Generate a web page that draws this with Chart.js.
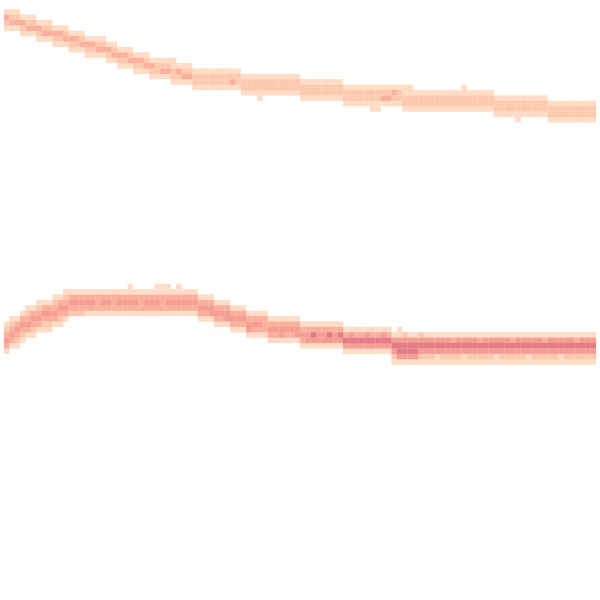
<!DOCTYPE html>
<html>
<head>
<meta charset="utf-8">
<style>
  html, body { margin: 0; padding: 0; background: #fff; }
  canvas { display: block; }
</style>
<script src="https://cdn.jsdelivr.net/npm/chart.js@4/dist/chart.umd.min.js"></script>
</head>
<body>
<canvas id="densityChart" width="600" height="600"></canvas>
<script>
// grid is 110 x 110 cells, rows counted from the top
var gridSize = 110;

// colour for density level 1..5
var levelColors = ['#fedcc5', '#fdc9ae', '#fab09c', '#f59d92', '#e27c86'];

// upper curve: first row of the band in each column, then the levels going down (0 = empty)
var topStart = [
  1, 1, 1, 2, 2, 2, 3, 3, 3, 4,
  4, 4, 5, 5, 5, 6, 6, 6, 6, 7,
  7, 8, 8, 8, 9, 9, 9, 10, 10, 10,
  10, 10, 11, 11, 11, 12, 12, 12, 12, 12,
  12, 12, 12, 12, 13, 13, 13, 13, 13, 13,
  13, 13, 13, 13, 13, 14, 14, 14, 14, 14,
  14, 14, 14, 15, 15, 15, 15, 15, 15, 15,
  15, 15, 15, 15, 15, 15, 16, 16, 16, 16,
  16, 16, 16, 16, 16, 15, 16, 16, 16, 16,
  16, 17, 17, 17, 17, 17, 17, 17, 17, 17,
  17, 18, 18, 18, 18, 18, 18, 18, 18, 18
];
var topCells = [
  '1321', '1231', '1231', '1321', '1231', '1231', '1321', '1231', '1231', '1321',
  '1321', '1231', '1321', '1321', '1231', '1321', '1321', '1231', '1231', '1321',
  '1231', '1321', '1321', '1231', '1321', '1321', '1231', '1321', '1221', '1231',
  '1231', '11221', '1321', '1231', '1231', '1221', '1221', '1221', '1221', '1221',
  '1221', '1221', '1231', '1221', '1221', '1221', '1221', '12211', '1221', '1221',
  '1221', '1221', '1221', '1221', '1221', '1221', '1221', '1221', '1221', '1221',
  '1221', '1221', '1221', '1221', '1221', '1221', '1221', '1221', '12211', '12211',
  '1231', '1231', '1321', '1221', '11221', '11221', '1221', '1221', '1221', '1221',
  '1221', '1221', '1221', '1221', '1221', '11221', '1221', '1221', '1221', '1221',
  '1221', '1221', '1221', '1221', '1221', '12211', '1221', '1221', '1221', '1221',
  '1221', '1221', '1221', '1221', '1221', '1221', '1221', '1221', '1221', '1221'
];

// lower curve
var lowStart = [
  59, 58, 58, 57, 56, 56, 55, 55, 55, 54,
  54, 53, 53, 53, 53, 53, 53, 53, 53, 53,
  53, 53, 53, 52, 53, 53, 53, 53, 52, 52,
  52, 53, 52, 53, 53, 53, 54, 54, 54, 55,
  55, 55, 56, 56, 56, 57, 57, 57, 57, 58,
  58, 58, 58, 58, 58, 59, 59, 59, 59, 59,
  59, 59, 59, 60, 60, 60, 60, 60, 60, 60,
  60, 60, 61, 60, 61, 61, 61, 61, 61, 61,
  61, 61, 61, 61, 61, 61, 61, 61, 61, 61,
  61, 61, 61, 61, 61, 61, 61, 61, 61, 61,
  61, 61, 61, 61, 61, 61, 61, 61, 61, 61
];
var lowCells = [
  '123431', '123431', '134321', '134321', '123431', '134321', '123431', '134321', '134321', '123431',
  '134321', '123431', '13432', '13432', '13432', '13431', '13431', '13331', '13431', '13431',
  '13331', '13431', '13431', '113431', '13431', '13331', '13431', '13431', '113431', '113331',
  '113431', '13431', '113431', '13431', '13431', '13431', '13431', '13431', '13441', '13431',
  '13431', '13441', '13431', '13431', '13431', '13441', '13431', '13431', '13331', '13431',
  '13431', '13441', '13431', '13431', '13441', '13431', '13441', '13541', '13441', '13441',
  '13541', '13441', '13541', '13541', '14541', '13541', '13541', '14541', '13541', '13541',
  '14541', '13541', '145421', '1145541', '245541', '145541', '145541', '245421', '145421', '145421',
  '145411', '145421', '145421', '135421', '145421', '145411', '145421', '145421', '135421', '145421',
  '145421', '145411', '145421', '145421', '135421', '145421', '145421', '145411', '145421', '145421',
  '135421', '145421', '145421', '145411', '145421', '145421', '135421', '145421', '145421', '145421'
];

function toPoints(starts, cells) {
  var pts = [];
  for (var i = 0; i < starts.length; i++) {
    for (var k = 0; k < cells[i].length; k++) {
      var v = +cells[i][k];
      if (v > 0) pts.push({ x: i + 0.5, y: starts[i] + k + 0.5, v: v });
    }
  }
  // darker cells on top
  pts.sort(function (a, b) { return a.v - b.v; });
  return pts;
}

var cellStyle = {
  pointStyle: 'rect',
  pointRadius: 3.95,
  pointHoverRadius: 3.95,
  borderWidth: 0,
  pointBorderWidth: 0,
  backgroundColor: function (c) { return c.raw ? levelColors[c.raw.v - 1] : '#fff'; },
  clip: false
};

var ctx = document.getElementById('densityChart').getContext('2d');
var densityChart = new Chart(ctx, {
  type: 'scatter',
  data: {
    datasets: [
      Object.assign({ data: toPoints(topStart, topCells) }, cellStyle),
      Object.assign({ data: toPoints(lowStart, lowCells) }, cellStyle)
    ]
  },
  options: {
    responsive: false,
    animation: false,
    events: [],
    layout: { padding: 0 },
    plugins: {
      legend: { display: false },
      tooltip: { enabled: false }
    },
    scales: {
      x: { type: 'linear', min: 0, max: gridSize, display: false },
      y: { type: 'linear', min: 0, max: gridSize, reverse: true, display: false }
    }
  }
});
</script>
</body>
</html>
